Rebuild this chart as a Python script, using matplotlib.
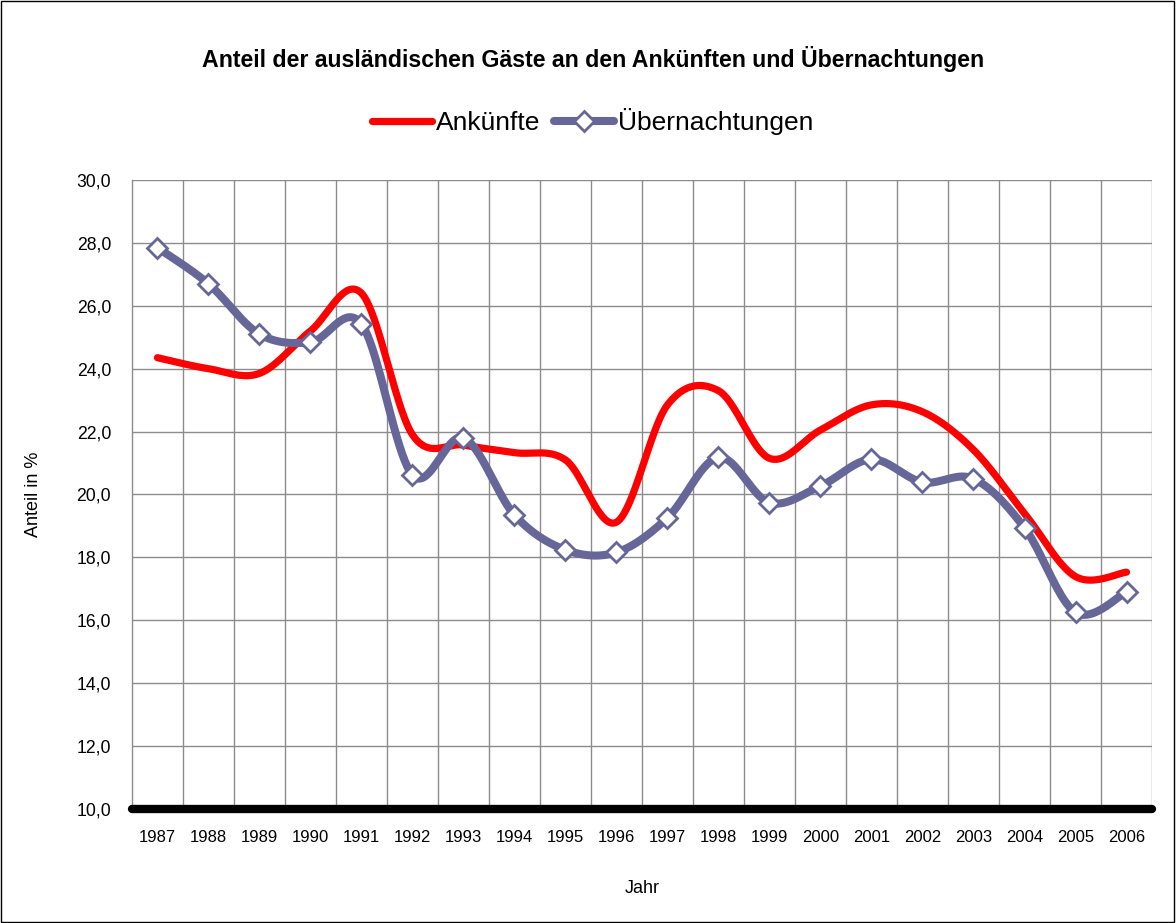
import numpy as np
import matplotlib
matplotlib.use("Agg")
import matplotlib.pyplot as plt
from matplotlib.patches import Rectangle

plt.rcParams["font.family"] = ["Liberation Sans", "DejaVu Sans"]

jahre = ["1987", "1988", "1989", "1990", "1991", "1992", "1993", "1994", "1995", "1996",
         "1997", "1998", "1999", "2000", "2001", "2002", "2003", "2004", "2005", "2006"]
ankuenfte = [24.35, 24.0, 23.85, 25.2, 26.4, 21.9, 21.57, 21.33, 21.1, 19.12,
             22.85, 23.3, 21.15, 22.05, 22.85, 22.63, 21.42, 19.4, 17.39, 17.53]
uebernachtungen = [27.85, 26.7, 25.1, 24.84, 25.42, 20.62, 21.8, 19.35, 18.24, 18.16,
                   19.26, 21.18, 19.74, 20.27, 21.12, 20.39, 20.5, 18.94, 16.25, 16.9]


def smooth(y, n=40):
    # Bezier-Glaettung wie bei Excel-Linien (Catmull-Rom)
    y = np.asarray(y, dtype=float)
    x = np.arange(len(y), dtype=float)
    px = np.concatenate([[x[0]], x, [x[-1]]])
    py = np.concatenate([[y[0]], y, [y[-1]]])
    t = np.linspace(0, 1, n)[:, None]
    xs, ys = [], []
    for i in range(len(y) - 1):
        p0 = np.array([x[i], y[i]])
        p3 = np.array([x[i + 1], y[i + 1]])
        p1 = p0 + (np.array([px[i + 2], py[i + 2]]) - np.array([px[i], py[i]])) / 6
        p2 = p3 - (np.array([px[i + 3], py[i + 3]]) - np.array([px[i + 1], py[i + 1]])) / 6
        b = (1 - t) ** 3 * p0 + 3 * (1 - t) ** 2 * t * p1 + 3 * (1 - t) * t ** 2 * p2 + t ** 3 * p3
        xs.append(b[:, 0])
        ys.append(b[:, 1])
    return np.concatenate(xs), np.concatenate(ys)


fig = plt.figure(figsize=(11.76, 9.23), dpi=100)
ax = fig.add_axes([0.1122, 0.1235, 0.8674, 0.6815])

x_idx = np.arange(len(jahre))
rot = "#ff0000"
blau = "#666699"

sx, sy = smooth(ankuenfte)
ax.plot(sx, sy, color=rot, lw=5.2, solid_capstyle="round", zorder=3)
sx, sy = smooth(uebernachtungen)
ax.plot(sx, sy, color=blau, lw=5.8, solid_capstyle="round", zorder=4)
ax.plot(x_idx, uebernachtungen, ls="none", marker="D", ms=10, mfc="white",
        mec=blau, mew=2, zorder=5)

ax.set_xlim(-0.5, len(jahre) - 0.5)
ax.set_ylim(10, 30)
ax.set_yticks(np.arange(10, 31, 2))
ax.set_yticklabels([f"{v:.1f}".replace(".", ",") for v in np.arange(10, 31, 2)], fontsize=12.7)
ax.set_xticks(x_idx)
ax.set_xticklabels(jahre, fontsize=12)
ax.set_xticks(x_idx + 0.5, minor=True)
ax.tick_params(axis="both", which="both", length=0)
ax.tick_params(axis="x", pad=15)
ax.tick_params(axis="y", pad=15)

ax.grid(True, axis="y", which="major", color="#8c8c8c", lw=1)
ax.grid(True, axis="x", which="minor", color="#8c8c8c", lw=1)
ax.set_axisbelow(True)
for side in ["top", "right", "bottom"]:
    ax.spines[side].set_visible(False)
ax.spines["left"].set_color("#8c8c8c")
ax.spines["left"].set_linewidth(1)

# dicke Kategorienachse bei 10,0
ax.plot([-0.5, len(jahre) - 0.5], [10, 10], color="black", lw=6,
        solid_capstyle="round", clip_on=False, zorder=6)

ax.set_xlabel("Jahr", fontsize=13, labelpad=25)
ax.set_ylabel("Anteil in %", fontsize=13, labelpad=25)

fig.text(0.504, 0.936, "Anteil der ausländischen Gäste an den Ankünften und Übernachtungen",
         ha="center", va="center", fontsize=16.7, fontweight="bold")

h1, = ax.plot([], [], color=rot, lw=5.2, solid_capstyle="round")
h2, = ax.plot([], [], color=blau, lw=5.8, solid_capstyle="round", marker="D",
              ms=10, mfc="white", mec=blau, mew=2)
fig.legend([h1, h2], ["Ankünfte", "Übernachtungen"], loc="center",
           bbox_to_anchor=(0.504, 0.868), ncol=2, frameon=False, fontsize=19,
           handlelength=2.3, handletextpad=0.15, columnspacing=0.5)

fig.patches.append(Rectangle((0.0005, 0.0008), 0.998, 0.998, transform=fig.transFigure,
                             fill=False, edgecolor="black", lw=1))

fig.savefig("out.png", dpi=100)
